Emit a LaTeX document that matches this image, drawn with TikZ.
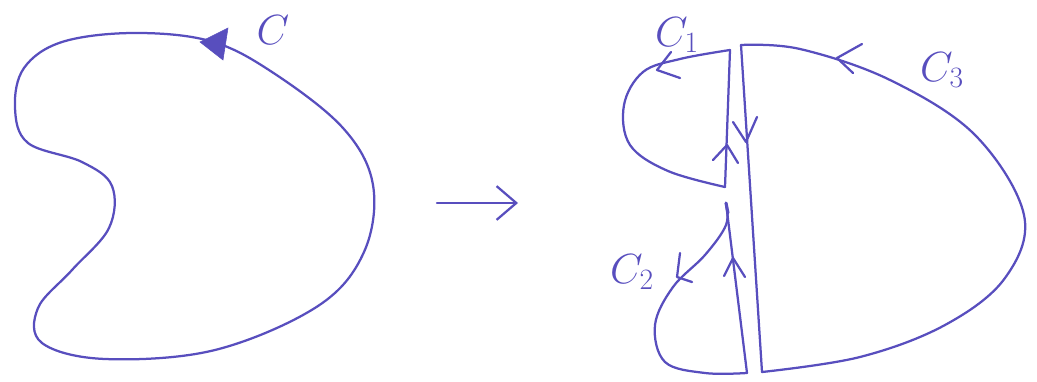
\documentclass[tikz,border=0pt]{standalone}
\usepackage{fix-cm}
\usetikzlibrary{arrows.meta}
\definecolor{caneta}{RGB}{88,78,190}
\tikzset{
  curva/.style={line width=1.6pt, color=caneta, line join=round, line cap=round},
  rotulo/.style={text=caneta, font=\fontsize{30}{34}\selectfont},
}
\begin{document}
\begin{tikzpicture}[x=0.025cm, y=-0.025cm]
    \useasboundingbox (0,0) rectangle (1037,381);

    % Curva fechada original C
    \draw[curva] plot[smooth cycle, tension=0.6] coordinates {
      (210,41) (133,33) (62,42) (24,68) (15,108) (28,143) (82,162)
      (112,186) (109,228) (72,270) (38,308) (42,343) (105,359)
      (215,350) (318,306) (364,252) (373,185) (343,128) (272,72)};
    % Ponta cheia da orientação de C
    \filldraw[caneta] (200,42) -- (228,28) -- (223,60) -- cycle;
    \node[rotulo] (rotC) at (273,30) {$C$};

    % Seta central
    \coordinate (ini) at (437,203);
    \coordinate (fim) at (518,203);
    \draw[curva, -{Straight Barb[length=14pt, width=24pt, line width=1.6pt]}] (ini) -- (fim);

    % Coordenadas da faixa de corte
    \coordinate (topoE) at (730,50);
    \coordinate (topoD) at (741,45);
    \coordinate (meioC1) at (725,187);
    \coordinate (inicioC2) at (726,203);
    \coordinate (baseE) at (747,373);
    \coordinate (baseD) at (762,372);

    % Região C1
    \draw[curva] plot[smooth, tension=0.6] coordinates {
      (topoE) (680,59) (643,72) (624,105) (630,145)
      (668,171) (meioC1)};
    \draw[curva] (meioC1) -- (topoE);
    \draw[curva] (671,52) -- (657,70) -- (680,78);
    \draw[curva] (713,160) -- (727,145) -- (738,163);
    \node[rotulo] (rotC1) at (677,35) {$C_1$};

    % Região C2
    \draw[curva, line width=2.2pt] (inicioC2) -- (728,213);
    \draw[curva] plot[smooth, tension=0.6] coordinates {
      (inicioC2) (726,225) (705,255) (673,287)
      (655,325) (665,362) (705,373) (baseE)};
    \draw[curva] (baseE) -- (inicioC2);
    \draw[curva] (680,253) -- (677,277) -- (692,282);
    \draw[curva] (724,276) -- (733,258) -- (745,277);
    \node[rotulo] (rotC2) at (632,272) {$C_2$};

    % Região C3
    \draw[curva] plot[smooth, tension=0.6] coordinates {
      (topoD) (800,49) (890,80) (975,135) (1024,215)
      (1005,278) (945,325) (860,357) (baseD)};
    \draw[curva] (baseD) -- (topoD);
    \draw[curva] (862,44) -- (837,58) -- (853,73);
    \draw[curva] (733,122) -- (746,142) -- (757,117);
    \node[rotulo] (rotC3) at (942,70) {$C_3$};
  \end{tikzpicture}
\end{document}
